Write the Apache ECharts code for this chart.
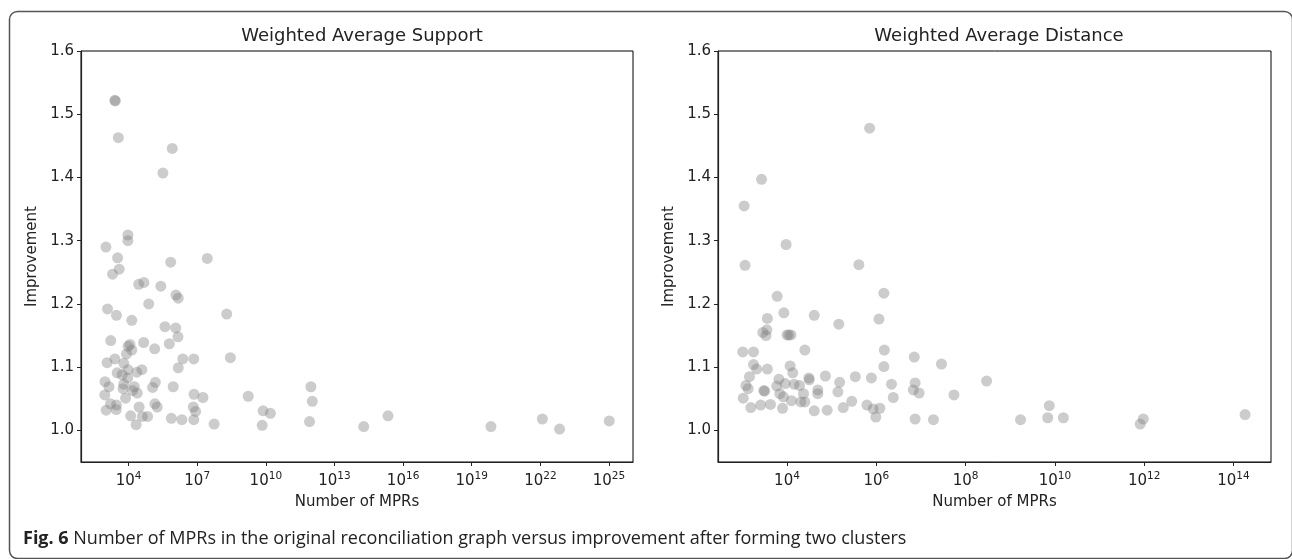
<!DOCTYPE html>
<html>
<head>
<meta charset="utf-8">
<title>Number of MPRs versus improvement</title>
<script src="https://cdn.jsdelivr.net/npm/echarts@6/dist/echarts.min.js"></script>
<style>
  html, body { margin: 0; padding: 0; background: #fff; }
  #chart { width: 1292px; height: 559px; }
</style>
</head>
<body>
<div id="chart"></div>
<script>
// Weighted Average Support: log10(number of MPRs) and improvement per family
const supportLogMPRs = [
  3.40, 3.42, 3.55, 5.91, 5.50, 3.97, 3.97, 3.01, 3.52, 5.84,
  7.44, 3.59, 3.30, 4.44, 4.67, 5.41, 6.07, 6.17, 4.88, 8.29,
  3.08, 3.47, 4.14, 5.59, 6.06, 6.16, 5.78, 3.22, 4.06, 3.98,
  4.14, 4.66, 5.14, 3.91, 3.40, 3.06, 3.79, 6.37, 6.85, 8.45,
  3.50, 3.97, 4.58, 4.36, 6.17, 3.72, 2.97, 3.96, 3.79, 5.17,
  3.14, 4.25, 5.95, 5.05, 3.76, 4.17, 4.38, 2.96, 6.86, 7.25,
  9.23, 3.87, 11.97, 12.03, 3.21, 3.47, 5.15, 5.25, 4.46, 6.83,
  6.93, 3.02, 3.46, 9.88, 10.20, 4.09, 4.60, 4.83, 5.87, 6.33,
  6.85, 11.91, 4.33, 7.74, 9.84, 14.28, 15.34, 19.84, 22.09, 22.84,
  25.01
];
const supportImprovement = [
  1.522, 1.521, 1.463, 1.446, 1.407, 1.309, 1.300, 1.290, 1.273, 1.266,
  1.272, 1.255, 1.247, 1.231, 1.234, 1.228, 1.214, 1.209, 1.200, 1.184,
  1.192, 1.182, 1.174, 1.164, 1.162, 1.148, 1.137, 1.142, 1.136, 1.133,
  1.127, 1.139, 1.129, 1.121, 1.113, 1.107, 1.106, 1.113, 1.113, 1.115,
  1.091, 1.096, 1.096, 1.092, 1.099, 1.088, 1.077, 1.083, 1.073, 1.076,
  1.069, 1.069, 1.069, 1.068, 1.066, 1.063, 1.059, 1.056, 1.057, 1.052,
  1.054, 1.051, 1.069, 1.046, 1.042, 1.040, 1.042, 1.037, 1.037, 1.037,
  1.030, 1.032, 1.033, 1.031, 1.027, 1.023, 1.022, 1.022, 1.019, 1.017,
  1.017, 1.014, 1.009, 1.010, 1.008, 1.006, 1.023, 1.006, 1.018, 1.002,
  1.015
];

// Weighted Average Distance: log10(number of MPRs) and improvement per family
const distanceLogMPRs = [
  5.85, 3.43, 3.04, 3.98, 3.06, 5.61, 6.17, 3.78, 3.93, 3.56,
  4.61, 5.16, 6.06, 3.46, 3.55, 3.53, 4.00, 4.04, 4.09, 3.01,
  3.25, 4.40, 6.18, 6.85, 7.46, 3.25, 3.32, 3.56, 4.07, 6.17,
  4.13, 3.16, 4.86, 5.53, 5.89, 4.49, 4.50, 3.82, 3.08, 3.77,
  3.96, 4.16, 4.28, 5.18, 6.34, 6.87, 3.13, 3.48, 3.50, 3.84,
  4.37, 4.69, 4.69, 5.14, 6.83, 6.96, 6.38, 7.74, 3.92, 3.02,
  4.10, 4.31, 4.40, 3.19, 3.41, 3.63, 3.90, 4.61, 4.90, 5.26,
  5.45, 5.79, 5.93, 6.08, 5.99, 6.87, 7.28, 8.47, 9.23, 9.84,
  9.875, 10.19, 11.91, 11.98, 14.26
];
const distanceImprovement = [
  1.478, 1.397, 1.355, 1.294, 1.261, 1.262, 1.217, 1.212, 1.186, 1.177,
  1.182, 1.168, 1.176, 1.155, 1.159, 1.150, 1.151, 1.151, 1.151, 1.124,
  1.124, 1.127, 1.127, 1.116, 1.105, 1.104, 1.097, 1.097, 1.102, 1.101,
  1.091, 1.085, 1.086, 1.085, 1.083, 1.083, 1.080, 1.081, 1.071, 1.070,
  1.074, 1.073, 1.071, 1.076, 1.073, 1.075, 1.066, 1.063, 1.062, 1.058,
  1.058, 1.064, 1.058, 1.061, 1.064, 1.059, 1.052, 1.056, 1.053, 1.051,
  1.047, 1.045, 1.045, 1.036, 1.040, 1.041, 1.035, 1.031, 1.032, 1.036,
  1.046, 1.040, 1.034, 1.035, 1.021, 1.018, 1.017, 1.078, 1.017, 1.020,
  1.039, 1.020, 1.010, 1.018, 1.025
];

// Tick positions (exponents of ten on x, improvement on y)
const supportXTicks = [4, 7, 10, 13, 16, 19, 22, 25];
const distanceXTicks = [4, 6, 8, 10, 12, 14];
const yTicks = [1.0, 1.1, 1.2, 1.3, 1.4, 1.5, 1.6];

const panelTitles = ['Weighted Average Support', 'Weighted Average Distance'];
const xAxisName = 'Number of MPRs';
const yAxisName = 'Improvement';
const captionLead = 'Fig. 6';
const captionText = 'Number of MPRs in the original reconciliation graph versus improvement after forming two clusters';

const FONT = 'DejaVu Sans';
const zip = (xs, ys) => xs.map((x, i) => [x, ys[i]]);

function xAxis(gridIndex, min, max, ticks) {
  return {
    type: 'value', gridIndex, min, max,
    name: xAxisName, nameLocation: 'middle', nameGap: 33,
    nameTextStyle: { fontFamily: FONT, fontSize: 15, color: '#222' },
    axisLine: { show: true, onZero: false, lineStyle: { color: '#222', width: 1.2 } },
    axisTick: { show: true, length: 4, customValues: ticks, lineStyle: { color: '#222' } },
    axisLabel: {
      customValues: ticks, margin: 7,
      formatter: v => '{b|10}{s|' + v + '}',
      rich: {
        b: { fontFamily: FONT, fontSize: 15, color: '#222', verticalAlign: 'bottom', lineHeight: 20 },
        s: { fontFamily: FONT, fontSize: 10.5, color: '#222', verticalAlign: 'bottom', lineHeight: 20, padding: [0, 0, 7, 0] }
      }
    },
    splitLine: { show: false }
  };
}

function yAxis(gridIndex) {
  return {
    type: 'value', gridIndex, min: 0.95, max: 1.6,
    name: yAxisName, nameLocation: 'middle', nameGap: 41,
    nameTextStyle: { fontFamily: FONT, fontSize: 15, color: '#222' },
    axisLine: { show: true, onZero: false, lineStyle: { color: '#222', width: 1.2 } },
    axisTick: { show: true, length: 4, customValues: yTicks, lineStyle: { color: '#222' } },
    axisLabel: {
      customValues: yTicks, margin: 7,
      fontFamily: FONT, fontSize: 15, color: '#222',
      formatter: v => Number(v).toFixed(1)
    },
    splitLine: { show: false }
  };
}

const dotStyle = { color: 'rgba(128,128,128,0.5)', borderWidth: 0 };

const chart = echarts.init(document.getElementById('chart'), null, { renderer: 'canvas' });
chart.setOption({
  backgroundColor: '#fff',
  animation: false,
  title: [
    { text: panelTitles[0], left: 357, top: 22, textAlign: 'center',
      textStyle: { fontFamily: FONT, fontSize: 18, fontWeight: 'normal', color: '#222' } },
    { text: panelTitles[1], left: 994, top: 22, textAlign: 'center',
      textStyle: { fontFamily: FONT, fontSize: 18, fontWeight: 'normal', color: '#222' } }
  ],
  grid: [
    { left: 81, right: 659, top: 51, bottom: 97, show: true, borderColor: '#000', borderWidth: 1, backgroundColor: 'transparent' },
    { left: 718, right: 21, top: 51, bottom: 97, show: true, borderColor: '#000', borderWidth: 1, backgroundColor: 'transparent' }
  ],
  xAxis: [
    xAxis(0, 1.92, 26.05, supportXTicks),
    xAxis(1, 2.455, 14.84, distanceXTicks)
  ],
  yAxis: [yAxis(0), yAxis(1)],
  series: [
    { type: 'scatter', xAxisIndex: 0, yAxisIndex: 0, symbolSize: 11,
      itemStyle: dotStyle, data: zip(supportLogMPRs, supportImprovement) },
    { type: 'scatter', xAxisIndex: 1, yAxisIndex: 1, symbolSize: 11,
      itemStyle: dotStyle, data: zip(distanceLogMPRs, distanceImprovement) }
  ],
  graphic: [
    { type: 'rect', left: 7, top: 9, silent: true,
      shape: { width: 1283, height: 547, r: 8 },
      style: { fill: 'none', stroke: '#555', lineWidth: 1.5 } },
    { type: 'text', left: 23, top: 530, silent: true,
      style: {
        text: '{b|' + captionLead + '} ' + captionText,
        fontFamily: 'Open Sans', fontSize: 18, fill: '#222',
        rich: { b: { fontFamily: 'Open Sans', fontSize: 18, fontWeight: 'bold', fill: '#222' } }
      } }
  ]
});
</script>
</body>
</html>
